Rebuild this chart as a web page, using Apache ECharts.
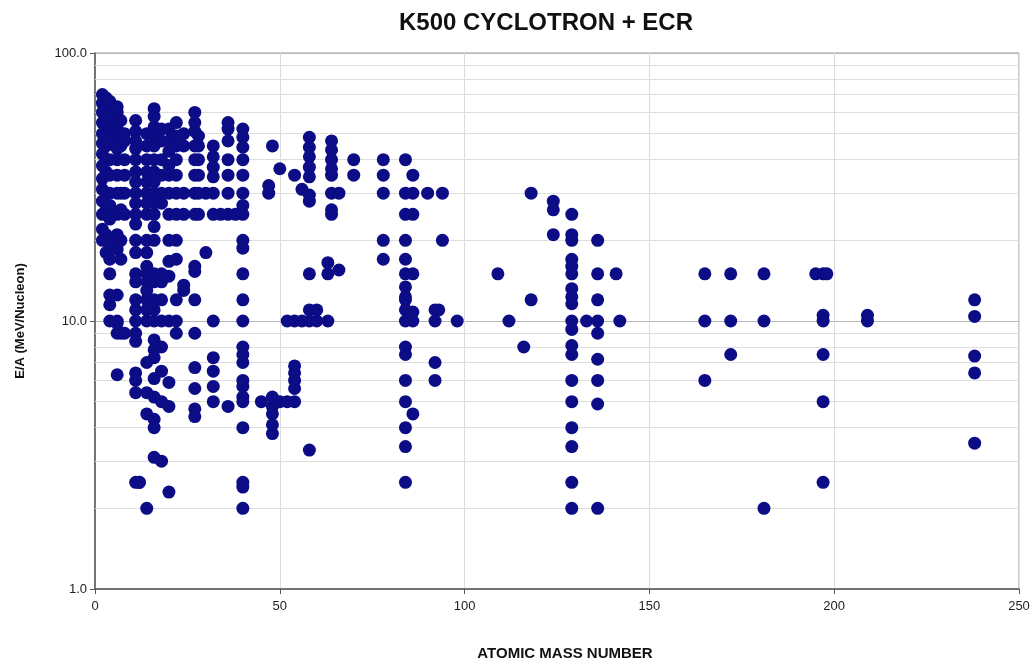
<!DOCTYPE html>
<html>
<head>
<meta charset="utf-8">
<script src="https://cdn.jsdelivr.net/npm/echarts@6/dist/echarts.min.js"></script>
<style>
  html, body { margin: 0; padding: 0; background: #ffffff; }
  #chart { width: 1034px; height: 662px; }
</style>
</head>
<body>
<div id="chart"></div>
<script>
// Beams available from the K500 cyclotron with ECR source:
// atomic mass number vs. energy per nucleon (MeV/u), one entry per beam.
const massNumber = [
  // light ions
  2,2,2,2,2,2,2,2,2,2,2,2,2,2,
  3,3,3,3,3,3,3,3,3,3,3,
  4,4,4,4,4,4,4,4,4,4,4,4,4,4,4,
  6,6,6,6,6,6,6,6,6,6,6,6,6,6,6,6,6,
  7,7,7,7,7,7,7,7,
  8,8,8,8,8,8,8,
  11,11,11,11,11,11,11,11,11,11,11,11,11,11,11,11,11,11,11,11,11,11,11,11,12,12,
  14,14,14,14,14,14,14,14,14,14,14,14,14,14,14,14,14,14,14,14,14,
  16,16,16,16,16,16,16,16,16,16,16,16,16,16,16,16,16,16,16,16,16,16,16,16,16,16,
  18,18,18,18,18,18,18,18,18,18,18,18,18,18,
  20,20,20,20,20,20,20,20,20,20,20,20,20,20,
  22,22,22,22,22,22,22,22,22,22,22,22,
  24,24,24,24,24,24,
  27,27,27,27,27,27,27,27,27,27,27,27,27,27,27,27,
  28,28,28,28,28,28,
  30,30,
  32,32,32,32,32,32,32,32,32,32,32,
  34,
  36,36,36,36,36,36,36,36,
  38,
  40,40,40,40,40,40,40,40,40,40,40,40,40,40,40,40,40,40,40,40,40,40,40,40,
  // medium ions
  45,
  47,47,
  48,48,48,48,48,48,
  50,50,
  52,52,
  54,54,54,54,54,54,54,
  56,56,
  58,58,58,58,58,58,58,58,58,58,58,
  60,60,
  64,64,64,64,64,64,64,64,63,63,63,
  66,66,
  70,70,
  78,78,78,78,78,
  84,84,84,84,84,84,84,84,84,84,84,84,84,84,84,84,84,84,
  86,86,86,86,86,86,86,
  90,
  92,92,92,93,92,
  94,94,
  98,
  // heavy ions
  109,112,116,118,118,
  124,124,124,
  129,129,129,129,129,129,129,129,129,129,129,129,129,129,129,129,129,129,129,
  133,
  136,136,136,136,136,136,136,136,136,
  141,142,
  165,165,165,
  172,172,172,
  181,181,181,
  195,197,198,
  197,197,197,197,197,
  209,209,
  238,238,238,238,238
];

const energyPerNucleon = [
  // A = 2
  70,65,60,55,50,46,42,38,34,31,28,25,22,20,
  // A = 3
  68,62,56,50,45,40,36,30,26,21,18,
  // A = 4
  66,58,52,47,40,35,30,27,24,19.5,17,15,12.5,11.5,10,
  // A = 6
  63,60,56,52,48.5,44,40,35,30,25,21,18.5,12.5,10,9.8,9,6.3,
  // A = 7
  56,50,45,30,26,20,17,9,
  // A = 8
  50,47,40,35,30,25,9,
  // A = 11, 12
  56,51,47,44,40,36,33,30,27.5,25,23,20,18,15,14,12,11,10,9,8.4,6.4,6,5.4,2.5,2.5,2.5,
  // A = 14
  50,45,40,36,33,30,27.5,25,20,18,16,15,14,13,12,11,10,7,5.4,4.5,2,
  // A = 16
  62,58,53,49,45,40,36,33,30,27.5,25,22.5,20,15,14,12,11,10,8.5,7.8,7.3,6.1,5.2,4.3,4,3.1,
  // A = 18
  52,47,40,35,30,27.5,15,14,12,10,8,6.5,5,3,
  // A = 20
  52,47,43,38,35,30,25,20,16.7,14.7,10,5.9,4.8,2.3,
  // A = 22
  55,49,45,40,35,30,25,20,17,12,10,9,
  // A = 24
  50,45,30,25,13.6,13,
  // A = 27
  60,55,51,45,40,35,30,25,16,15.3,12,9,6.7,5.6,4.7,4.4,
  // A = 28
  49,45,40,35,30,25,
  // A = 30
  30,18,
  // A = 32
  45,41,37.5,34.5,30,25,10,7.3,6.5,5.7,5,
  // A = 34
  25,
  // A = 36
  55,52,47,40,35,30,25,4.8,
  // A = 38
  25,
  // A = 40
  52,48.5,44.5,40,35,30,27,25,20,18.7,15,12,10,8,7.5,7,6,5.7,5.2,5,4,2.5,2.4,2,
  // A = 45 .. 98
  5,
  32,30,
  45,5.2,4.8,4.5,4.1,3.8,
  37,5,
  10,5,
  35,6.8,6.4,6,5.6,5,10,
  31,10,
  48.5,44.5,41,37.5,34.5,29.5,28,15,11,10,3.3,
  11,10,
  47,43.5,40,37,35,30,26,25,16.5,15,10,
  30,15.5,
  40,35,
  40,35,30,20,17,
  40,30,25,20,17,15,13.4,12.3,12,11,10,8,7.5,6,5,4,3.4,2.5,
  35,30,25,15,10.8,10,4.5,
  30,
  11,7,6,11,10,
  30,20,
  10,
  // A = 109 .. 238
  15,10,8,30,12,
  28,26,21,
  25,21,20,17,16,15,13.2,12.3,11.6,10,9.3,8.1,7.5,6,5,4,3.4,2.5,2,
  10,
  20,15,12,10,9,7.2,6,4.9,2,
  15,10,
  15,10,6,
  15,10,7.5,
  15,10,2,
  15,15,15,
  10.5,10,7.5,5,2.5,
  10.5,10,
  12,10.4,7.4,6.4,3.5
];

// Axis ticks and the log grid inside each decade
const xTicks = [0, 50, 100, 150, 200, 250];
const yTicks = [1, 10, 100];
const minorGrid = [2,3,4,5,6,7,8,9,20,30,40,50,60,70,80,90];

const points = massNumber.map((a, i) => [a, energyPerNucleon[i]]);

const chart = echarts.init(document.getElementById('chart'));
const font = '"Liberation Sans", Arial, sans-serif';

chart.setOption({
  animation: false,
  backgroundColor: '#ffffff',
  title: {
    text: 'K500 CYCLOTRON + ECR',
    left: 541,
    textAlign: 'center',
    top: 6,
    textStyle: { fontFamily: font, fontSize: 24, fontWeight: 'bold', color: '#111111' }
  },
  grid: { left: 95, right: 15, top: 53, bottom: 73, containLabel: false,
          outerBoundsMode: 'none',
          show: true, borderColor: '#9a9a9a', borderWidth: 1 },
  xAxis: {
    type: 'value',
    min: xTicks[0],
    max: xTicks[xTicks.length - 1],
    interval: 50,
    name: 'ATOMIC MASS NUMBER',
    nameLocation: 'middle',
    nameGap: 57,
    nameTextStyle: { fontFamily: font, fontSize: 15, fontWeight: 'bold', color: '#111111',
                     padding: [0, 0, 0, 16] },
    axisLine: { lineStyle: { color: '#555555', width: 1.5 } },
    axisTick: { show: true, length: 5, lineStyle: { color: '#555555' } },
    axisLabel: { fontFamily: font, fontSize: 13, color: '#222222', margin: 11 },
    splitLine: { show: true, lineStyle: { color: '#dcdcdc', width: 1 } }
  },
  yAxis: {
    type: 'log',
    logBase: 10,
    min: yTicks[0],
    max: yTicks[yTicks.length - 1],
    name: 'E/A (MeV/Nucleon)',
    nameLocation: 'middle',
    nameGap: 68,
    nameRotate: 90,
    nameTextStyle: { fontFamily: font, fontSize: 13, fontWeight: 'bold', color: '#111111' },
    axisLine: { show: true, lineStyle: { color: '#555555', width: 1.5 } },
    axisTick: { show: true, length: 5, lineStyle: { color: '#555555' } },
    axisLabel: { fontFamily: font, fontSize: 13, color: '#222222', margin: 8,
                 formatter: v => v.toFixed(1) },
    splitLine: { show: true, lineStyle: { color: '#b8b8b8', width: 1 } }
  },
  series: [
    {
      // minor log grid lines
      type: 'scatter',
      data: [],
      silent: true,
      markLine: {
        silent: true,
        symbol: 'none',
        label: { show: false },
        lineStyle: { color: '#dedede', width: 1, type: 'solid' },
        data: minorGrid.map(v => ({ yAxis: v }))
      }
    },
    {
      type: 'scatter',
      data: points,
      symbol: 'circle',
      symbolSize: 13,
      itemStyle: { color: '#0c0c86', opacity: 1 },
      z: 5
    }
  ]
});
</script>
</body>
</html>
